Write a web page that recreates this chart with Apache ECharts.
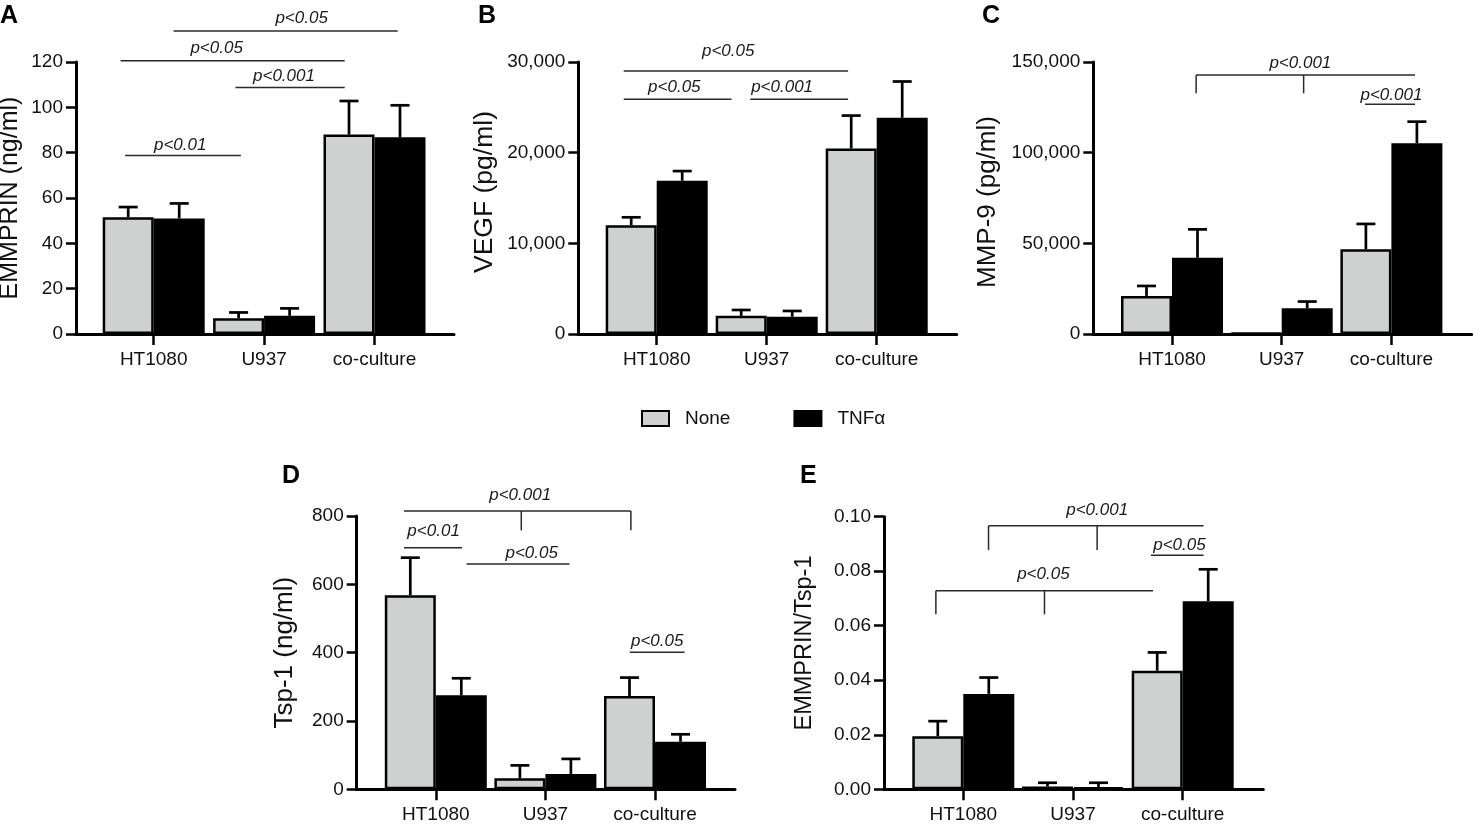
<!DOCTYPE html>
<html>
<head>
<meta charset="utf-8">
<script src="https://cdn.jsdelivr.net/npm/echarts@6.0.0/dist/echarts.min.js"></script>
<style>
  html, body { margin: 0; padding: 0; background: #fff; }
  #main { width: 1475px; height: 827px; }
</style>
</head>
<body>
<div id="main"></div>
<script>
const categories = ['HT1080', 'U937', 'co-culture']

// A: EMMPRIN (ng/ml)
const emmNone = [51.5, 7, 88]
const emmNoneErr = [4.5, 2.5, 14.8]
const emmTnf = [51, 8, 86.8]
const emmTnfErr = [6.6, 3.3, 14.1]

// B: VEGF (pg/ml)
const vegfNone = [12000, 2000, 20450]
const vegfNoneErr = [870, 650, 3640]
const vegfTnf = [16900, 1900, 23850]
const vegfTnfErr = [1070, 640, 4000]

// C: MMP-9 (pg/ml)
const mmpNone = [21000, 600, 46700]
const mmpNoneErr = [5500, 0, 14000]
const mmpTnf = [42000, 14200, 105200]
const mmpTnfErr = [15700, 3700, 11900]

// D: Tsp-1 (ng/ml)
const tspNone = [568, 32, 273]
const tspNoneErr = [110, 38, 54]
const tspTnf = [275, 45, 139]
const tspTnfErr = [50, 44, 22]

// E: EMMPRIN/Tsp-1
const ratioNone = [0.0195, 0.001, 0.0435]
const ratioNoneErr = [0.0055, 0.0014, 0.0067]
const ratioTnf = [0.035, 0.0008, 0.069]
const ratioTnfErr = [0.006, 0.0016, 0.0117]

// significance marks: [x1, x2, y, labelX, labelY, text, dropY, tick x's]  (x in category units)
const sigA = [
  [-0.30, 1.73, 120.6, 0.57, 126.2, 'p<0.05', null, []],
  [0.18, 2.21, 133.7, 1.34, 139.4, 'p<0.05', null, []],
  [0.74, 1.73, 108.7, 1.18, 113.8, 'p<0.001', null, []],
  [-0.26, 0.79, 78.8, 0.24, 83.1, 'p<0.01', null, []]
]
const sigB = [
  [-0.30, 1.74, 29010, 0.65, 31140, 'p<0.05', null, []],
  [-0.30, 0.68, 25890, 0.16, 27210, 'p<0.05', null, []],
  [0.85, 1.74, 25890, 1.14, 27210, 'p<0.001', null, []]
]
const sigC = [
  [0.22, 2.215, 142840, 1.17, 149290, 'p<0.001', 132750, [0.22, 1.2]],
  [1.76, 2.215, 126680, 2.0, 131810, 'p<0.001', null, []]
]
const sigD = [
  [-0.29, 1.78, 814.6, 0.77, 861.4, 'p<0.001', 758, [0.78, 1.78]],
  [-0.29, 0.24, 707, -0.02, 754, 'p<0.01', null, []],
  [0.28, 1.22, 659.5, 0.875, 690.8, 'p<0.05', null, []],
  [1.77, 2.27, 401, 2.02, 432, 'p<0.05', null, []]
]
const sigE = [
  [0.23, 2.19, 0.0967, 1.22, 0.1022, 'p<0.001', 0.0878, [0.23, 1.22]],
  [1.71, 2.19, 0.0859, 1.97, 0.0896, 'p<0.05', null, []],
  [-0.25, 1.73, 0.0728, 0.73, 0.079, 'p<0.05', 0.0642, [-0.25, 0.74]]
]

const FONT = '"Liberation Sans", Arial, Helvetica, sans-serif'
const BAR_W = 51
const CAP_W = 19
const thousands = v => String(v).replace(/\B(?=(\d{3})+(?!\d))/g, ',')

const panels = [
  { letter: 'A', lx: 0, ly: 4, name: 'EMMPRIN (ng/ml)', max: 120, interval: 20, fmt: v => v,
    none: emmNone, noneErr: emmNoneErr, tnf: emmTnf, tnfErr: emmTnfErr, sig: sigA,
    axisX: 76, xEnd: 454, y0: 334, yTop: 62, c0: 153.7, band: 110.4,
    nameGap: 53, nameSize: 25, namePad: [0, 0, 0, 0] },
  { letter: 'B', lx: 478, ly: 4, name: 'VEGF (pg/ml)', max: 30000, interval: 10000, fmt: thousands,
    none: vegfNone, noneErr: vegfNoneErr, tnf: vegfTnf, tnfErr: vegfTnfErr, sig: sigB,
    axisX: 578.3, xEnd: 956.7, y0: 334, yTop: 62, c0: 656.7, band: 110,
    nameGap: 80, nameSize: 26.5, namePad: [0, 0, 0, 12] },
  { letter: 'C', lx: 982, ly: 4, name: 'MMP-9 (pg/ml)', max: 150000, interval: 50000, fmt: thousands,
    none: mmpNone, noneErr: mmpNoneErr, tnf: mmpTnf, tnfErr: mmpTnfErr, sig: sigC,
    axisX: 1093.3, xEnd: 1471.7, y0: 334, yTop: 62, c0: 1172, band: 109.7,
    nameGap: 92, nameSize: 26, namePad: [0, 8, 0, 0] },
  { letter: 'D', lx: 282, ly: 463.5, name: 'Tsp-1 (ng/ml)', max: 800, interval: 200, fmt: v => v,
    none: tspNone, noneErr: tspNoneErr, tnf: tspTnf, tnfErr: tspTnfErr, sig: sigD,
    axisX: 356.7, xEnd: 735, y0: 789.3, yTop: 516, c0: 435.8, band: 109.6,
    nameGap: 59, nameSize: 26, namePad: [0, 0, 0, 0] },
  { letter: 'E', lx: 800, ly: 463.5, name: 'EMMPRIN/Tsp-1', max: 0.1, interval: 0.02, fmt: v => v.toFixed(2),
    none: ratioNone, noneErr: ratioNoneErr, tnf: ratioTnf, tnfErr: ratioTnfErr, sig: sigE,
    axisX: 884, xEnd: 1263.3, y0: 789.3, yTop: 516.7, c0: 963.3, band: 109.7,
    nameGap: 67, nameSize: 23.5, namePad: [0, 0, 0, 20] }
]

// upper whisker only, sitting on the bar top
function renderErr(params, api) {
  const i = api.value(0), v = api.value(1), e = api.value(2), side = api.value(3)
  if (!e) return
  const base = api.coord([i, v])
  const top = api.coord([i, v + e])
  const x = base[0] + side * BAR_W / 2
  const st = { stroke: '#000', lineWidth: 2.7 }
  return {
    type: 'group',
    children: [
      { type: 'line', shape: { x1: x, y1: base[1], x2: x, y2: top[1] }, style: st },
      { type: 'line', shape: { x1: x - CAP_W / 2, y1: top[1], x2: x + CAP_W / 2, y2: top[1] }, style: st }
    ]
  }
}

function sigRenderer(list) {
  return function (params, api) {
    const [x1, x2, y, lx, ly, text, dropY, ticks] = list[params.dataIndex]
    const st = { stroke: '#2a2a2a', lineWidth: 1.5 }
    const a = api.coord([x1, y]), b = api.coord([x2, y])
    const children = [{ type: 'line', shape: { x1: a[0], y1: a[1], x2: b[0], y2: b[1] }, style: st }]
    ticks.forEach(tx => {
      const t0 = api.coord([tx, y]), t1 = api.coord([tx, dropY])
      children.push({ type: 'line', shape: { x1: t0[0], y1: t0[1], x2: t1[0], y2: t1[1] }, style: st })
    })
    const l = api.coord([lx, ly])
    children.push({
      type: 'text', x: l[0], y: l[1],
      style: { text, fill: '#1a1a1a', fontSize: 17, fontStyle: 'italic', fontFamily: FONT, align: 'center', verticalAlign: 'middle' }
    })
    return { type: 'group', children }
  }
}

const grid = [], xAxis = [], yAxis = [], series = [], graphic = []

panels.forEach((p, k) => {
  const outer = k * 2, inner = k * 2 + 1
  const top = p.yTop, height = p.y0 - p.yTop

  // outer grid: y axis, full-length baseline, annotations
  grid.push({ left: p.axisX, top, width: p.xEnd - p.axisX, height, outerBoundsMode: 'none' })
  // inner grid: the three category bands
  grid.push({ left: p.c0 - p.band / 2, top, width: p.band * 3, height, outerBoundsMode: 'none' })

  xAxis.push({
    type: 'value', gridIndex: outer,
    min: (p.axisX - p.c0) / p.band, max: (p.xEnd - p.c0) / p.band,
    axisLine: { show: true, onZero: false, lineStyle: { color: '#000', width: 3 } },
    axisTick: { show: false }, axisLabel: { show: false }, splitLine: { show: false }
  })
  xAxis.push({
    type: 'category', gridIndex: inner, data: categories,
    axisLine: { show: false, onZero: false },
    axisTick: { show: true, alignWithLabel: true, length: 11, lineStyle: { color: '#000', width: 2.5 } },
    axisLabel: { fontSize: 19, color: '#111', margin: 16, fontFamily: FONT },
    splitLine: { show: false }
  })
  yAxis.push({
    type: 'value', gridIndex: outer, min: 0, max: p.max, interval: p.interval,
    axisLine: { show: true, onZero: false, lineStyle: { color: '#000', width: 3 } },
    axisTick: { show: true, length: 10, lineStyle: { color: '#000', width: 2.5 } },
    axisLabel: { fontSize: 19, color: '#111', margin: 13, fontFamily: FONT, formatter: p.fmt },
    splitLine: { show: false },
    name: p.name, nameLocation: 'middle', nameGap: p.nameGap, nameRotate: 90, nameMoveOverlap: false,
    nameTextStyle: { fontSize: p.nameSize, color: '#111', fontFamily: FONT, padding: p.namePad }
  })
  yAxis.push({ type: 'value', gridIndex: inner, min: 0, max: p.max, show: false })

  series.push({
    name: 'None', type: 'bar', xAxisIndex: inner, yAxisIndex: inner,
    data: p.none, barWidth: BAR_W, barGap: '0%',
    itemStyle: { color: '#cfd0d0', borderColor: '#000', borderWidth: 2.5 },
    emphasis: { disabled: true }
  })
  series.push({
    name: 'TNFα', type: 'bar', xAxisIndex: inner, yAxisIndex: inner,
    data: p.tnf, barWidth: BAR_W, barGap: '0%',
    itemStyle: { color: '#000', borderColor: '#000', borderWidth: 2.5 },
    emphasis: { disabled: true }
  })

  const errData = []
  categories.forEach((c, i) => {
    errData.push([i, p.none[i], p.noneErr[i], -1])
    errData.push([i, p.tnf[i], p.tnfErr[i], 1])
  })
  series.push({
    type: 'custom', xAxisIndex: inner, yAxisIndex: inner, z: 3,
    renderItem: renderErr, data: errData, silent: true, clip: false
  })
  series.push({
    type: 'custom', xAxisIndex: outer, yAxisIndex: outer, z: 3,
    renderItem: sigRenderer(p.sig), data: p.sig.map(s => [s[0], s[2]]), silent: true, clip: false
  })

  graphic.push({
    type: 'text', left: p.lx, top: p.ly,
    style: { text: p.letter, fill: '#000', fontSize: 25, fontWeight: 'bold', fontFamily: FONT }
  })
})

const chart = echarts.init(document.getElementById('main'), null, { renderer: 'canvas' })
chart.setOption({
  animation: false,
  backgroundColor: '#fff',
  textStyle: { fontFamily: FONT },
  grid, xAxis, yAxis, series, graphic,
  legend: {
    data: ['None', 'TNFα'],
    left: 641, top: 409, padding: 0,
    itemWidth: 27, itemHeight: 15, itemGap: 63,
    icon: 'rect',
    selectedMode: false,
    textStyle: { fontSize: 19, color: '#111', fontFamily: FONT, padding: [0, 0, 0, 11] }
  }
})
</script>
</body>
</html>
